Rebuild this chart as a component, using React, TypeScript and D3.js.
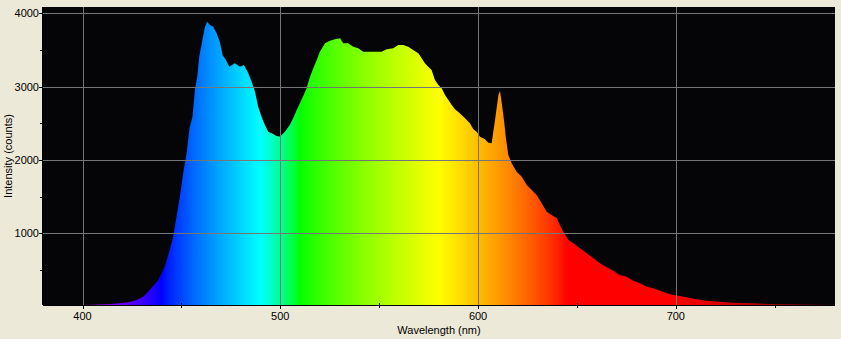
import * as d3 from "d3";

// spectrum samples (nm, counts)
const WAVELENGTH = [
  380, 390, 398, 403.7, 413.8, 418.9, 424.0, 427.3, 430.7, 433.2, 435.7, 438.3, 440.0,
  441.6, 444.1, 445.8, 447.5, 449.2, 450.9, 452.6, 454.2, 455.6, 456.8, 458.0, 459.0,
  460.3, 461.9, 463.0, 464.4, 466.1, 467.8, 469.4, 470.8, 472.5, 474.2, 477.0, 479.6,
  481.6, 483.8, 485.5, 487.2, 488.8, 490.5, 492.2, 493.9, 496.4, 498.1, 499.8, 502.3,
  504.8, 506.5, 508.3, 509.9, 511.6, 513.3, 515.0, 516.7, 518.4, 520.0, 522.6, 525.1,
  527.6, 530.2, 531.8, 534.3, 536.9, 539.4, 541.9, 545.3, 548.7, 551.2, 553.8, 557.1,
  559.6, 562.2, 564.7, 567.2, 569.8, 571.5, 573.1, 574.8, 576.5, 578.2, 579.9, 581.6,
  583.3, 585.0, 586.7, 588.3, 590.5, 593.4, 595.9, 597.6, 599.3, 601.0, 603.5, 605.2,
  606.9, 607.7, 608.6, 609.5, 610.3, 611.1, 612.0, 613.1, 614.1, 615.3, 617.0, 619.5,
  622.1, 624.6, 627.1, 629.6, 632.2, 634.7, 637.2, 639.8, 641.4, 643.1, 645.7, 648.2,
  651.5, 654.9, 658.3, 661.6, 665.0, 668.4, 671.4, 675.2, 678.5, 681.9, 685.3, 688.6,
  692.0, 695.4, 698.7, 702.1, 705.5, 710.5, 715.6, 722.3, 729.1, 739.2, 747.6, 759.4,
  773.0, 780.5,
];
const COUNTS = [
  15, 20, 22, 26, 35, 45, 63, 90, 135, 203, 281, 363, 454,
  544, 772, 954, 1226, 1499, 1819, 2091, 2454, 2591, 2955, 3136, 3409,
  3592, 3819, 3887, 3842, 3819, 3728, 3614, 3432, 3363, 3273, 3318, 3273,
  3296, 3183, 3068, 2932, 2727, 2591, 2477, 2386, 2355, 2327, 2318, 2386,
  2477, 2569, 2682, 2773, 2873, 2978, 3136, 3251, 3364, 3478, 3592, 3628,
  3647, 3660, 3592, 3592, 3546, 3524, 3478, 3478, 3478, 3478, 3510, 3524,
  3569, 3569, 3546, 3501, 3456, 3387, 3319, 3273, 3228, 3092, 3023, 2978,
  2887, 2819, 2750, 2692, 2645, 2569, 2501, 2419, 2386, 2318, 2282, 2236,
  2228, 2386, 2546, 2727, 2887, 2941, 2774, 2546, 2296, 2069, 1955, 1840,
  1772, 1659, 1591, 1523, 1409, 1295, 1250, 1205, 1113, 1022, 909, 864,
  795, 727, 659, 591, 536, 490, 431, 408, 353, 318, 271, 250,
  217, 182, 158, 145, 127, 100, 80, 67, 53, 45, 35, 31,
  26, 22,
];

const X_MAJOR = [400, 500, 600, 700];
const X_MINOR = [450, 550, 650, 750];
const Y_MAJOR = [1000, 2000, 3000, 4000];
const Y_MINOR = [500, 1500, 2500, 3500];

const W = 841;
const H = 339;
const PLOT = { left: 43, top: 7, right: 835, bottom: 305 };
const FONT = "'Liberation Sans', Arial, sans-serif";

// classic wavelength -> rgb approximation
function waveColor(w: number) {
  let r = 0, g = 0, b = 0;
  if (w < 440) { r = -(w - 440) / 60; b = 1; }
  else if (w < 490) { g = (w - 440) / 50; b = 1; }
  else if (w < 510) { g = 1; b = -(w - 510) / 20; }
  else if (w < 580) { r = (w - 510) / 70; g = 1; }
  else if (w < 645) { r = 1; g = -(w - 645) / 65; }
  else { r = 1; }
  let f = 1;
  if (w < 420) f = 0.3 + (0.7 * (w - 380)) / 40;
  else if (w > 700) f = 0.3 + (0.7 * (780 - w)) / 80;
  const c = (v: number) => (v === 0 ? 0 : Math.round(255 * Math.pow(v * f, 0.8)));
  return `rgb(${c(r)},${c(g)},${c(b)})`;
}

export default function App() {
  const x = d3.scaleLinear().domain([380, 780.5]).range([PLOT.left, PLOT.right]);
  const y = d3.scaleLinear().domain([22, 4087]).range([PLOT.bottom, PLOT.top]).clamp(true);

  const data = WAVELENGTH.map((w, i) => ({ w, c: COUNTS[i] }));
  const area = d3
    .area<{ w: number; c: number }>()
    .x((d) => x(d.w))
    .y0(PLOT.bottom)
    .y1((d) => y(d.c));

  const stops = d3.range(380, 781, 2);
  const [d0, d1] = x.domain();

  return (
    <div style={{ position: "absolute", left: 0, top: 0 }}>
      <svg width={W} height={H} style={{ display: "block" }}>
        <defs>
          <linearGradient id="spec" gradientUnits="userSpaceOnUse" x1={x(d0)} x2={x(d1)} y1={0} y2={0}>
            {stops.map((w) => (
              <stop key={w} offset={(w - d0) / (d1 - d0)} stopColor={waveColor(Math.min(w, 780))} />
            ))}
          </linearGradient>
          <clipPath id="plot-clip">
            <rect x={PLOT.left} y={PLOT.top} width={PLOT.right - PLOT.left} height={PLOT.bottom - PLOT.top} />
          </clipPath>
        </defs>
        <rect width={W} height={H} fill="#ECE9D8" />
        <rect
          x={PLOT.left}
          y={PLOT.top}
          width={PLOT.right - PLOT.left}
          height={PLOT.bottom - PLOT.top}
          fill="#050507"
        />
        <path d={area(data) ?? ""} fill="url(#spec)" clipPath="url(#plot-clip)" />

        {/* grid on top of the spectrum */}
        <g stroke="#767676" strokeWidth={1} shapeRendering="crispEdges">
          {X_MAJOR.map((t) => (
            <line key={t} x1={Math.round(x(t)) + 0.5} x2={Math.round(x(t)) + 0.5} y1={PLOT.top} y2={PLOT.bottom} />
          ))}
          {Y_MAJOR.map((t) => (
            <line key={t} x1={PLOT.left} x2={PLOT.right} y1={Math.round(y(t)) + 0.5} y2={Math.round(y(t)) + 0.5} />
          ))}
        </g>

        {/* axes */}
        <g stroke="#000" strokeWidth={1} shapeRendering="crispEdges">
          <line x1={PLOT.left} x2={PLOT.right} y1={PLOT.bottom + 0.5} y2={PLOT.bottom + 0.5} />
          <line x1={PLOT.left - 0.5} x2={PLOT.left - 0.5} y1={PLOT.top} y2={PLOT.bottom} />
          {X_MAJOR.map((t) => (
            <line key={t} x1={Math.round(x(t)) + 0.5} x2={Math.round(x(t)) + 0.5} y1={PLOT.bottom} y2={PLOT.bottom + 4} />
          ))}
          {X_MINOR.map((t) => (
            <line key={t} x1={Math.round(x(t)) + 0.5} x2={Math.round(x(t)) + 0.5} y1={PLOT.bottom - 2} y2={PLOT.bottom + 3} />
          ))}
          {Y_MAJOR.map((t) => (
            <line key={t} x1={PLOT.left - 4} x2={PLOT.left} y1={Math.round(y(t)) + 0.5} y2={Math.round(y(t)) + 0.5} />
          ))}
          {Y_MINOR.map((t) => (
            <line key={t} x1={PLOT.left - 3} x2={PLOT.left} y1={Math.round(y(t)) + 0.5} y2={Math.round(y(t)) + 0.5} />
          ))}
        </g>

        <g fontFamily={FONT} fontSize={11} fill="#000">
          {X_MAJOR.map((t) => (
            <text key={t} x={x(t)} y={320} textAnchor="middle">
              {t}
            </text>
          ))}
          {Y_MAJOR.map((t) => (
            <text key={t} x={PLOT.left - 4} y={y(t) + 4} textAnchor="end">
              {t}
            </text>
          ))}
          <text x={(PLOT.left + PLOT.right) / 2} y={334} textAnchor="middle">
            Wavelength (nm)
          </text>
          <text transform={`translate(12,${(PLOT.top + PLOT.bottom) / 2}) rotate(-90)`} textAnchor="middle">
            Intensity (counts)
          </text>
        </g>
      </svg>
    </div>
  );
}
